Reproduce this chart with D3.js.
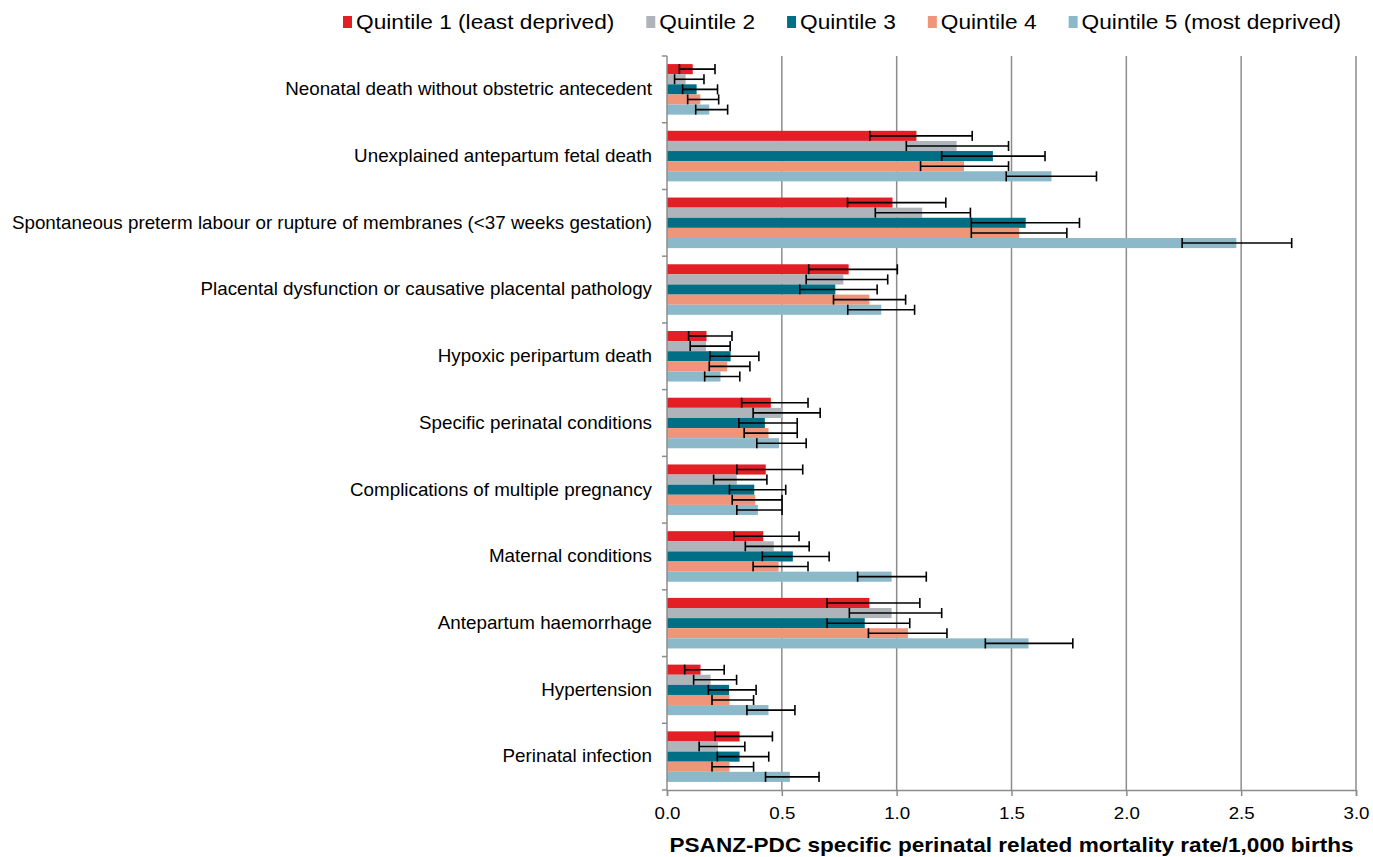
<!DOCTYPE html>
<html>
<head>
<meta charset="utf-8">
<script src="https://cdn.jsdelivr.net/npm/d3@7"></script>
<style>
  body { margin: 0; background: #fff; }
  text { font-family: "Liberation Sans", Arial, sans-serif; fill: #000; }
</style>
</head>
<body>
<div id="chart"></div>
<script>
// categories, top to bottom
var causes = [
    "Neonatal death without obstetric antecedent",
    "Unexplained antepartum fetal death",
    "Spontaneous preterm labour or rupture of membranes (<37 weeks gestation)",
    "Placental dysfunction or causative placental pathology",
    "Hypoxic peripartum death",
    "Specific perinatal conditions",
    "Complications of multiple pregnancy",
    "Maternal conditions",
    "Antepartum haemorrhage",
    "Hypertension",
    "Perinatal infection"
];

var quintiles = ["Quintile 1 (least deprived)", "Quintile 2", "Quintile 3", "Quintile 4", "Quintile 5 (most deprived)"];
var colors = ["#e31e24", "#afb4ba", "#006e85", "#f0957a", "#8cb9c9"];

// rate per quintile, one row per cause (same order as causes)
var rate = [
    [0.112, 0.081, 0.129, 0.145, 0.184],
    [1.086, 1.261, 1.419, 1.293, 1.674],
    [0.982, 1.111, 1.562, 1.533, 2.479],
    [0.791, 0.768, 0.733, 0.881, 0.933],
    [0.172, 0.170, 0.277, 0.262, 0.233],
    [0.452, 0.503, 0.426, 0.442, 0.488],
    [0.430, 0.304, 0.380, 0.384, 0.396],
    [0.419, 0.465, 0.548, 0.486, 0.978],
    [0.881, 0.978, 0.861, 1.049, 1.574],
    [0.146, 0.190, 0.270, 0.272, 0.442],
    [0.316, 0.222, 0.316, 0.272, 0.535]
];
// 95% CI lower bound
var ciLow = [
    [0.054, 0.033, 0.068, 0.090, 0.125],
    [0.883, 1.042, 1.196, 1.104, 1.477],
    [0.786, 0.907, 1.325, 1.325, 2.243],
    [0.617, 0.606, 0.578, 0.725, 0.787],
    [0.094, 0.101, 0.187, 0.184, 0.164],
    [0.325, 0.375, 0.313, 0.336, 0.391],
    [0.304, 0.203, 0.272, 0.284, 0.304],
    [0.291, 0.341, 0.415, 0.375, 0.830],
    [0.697, 0.794, 0.697, 0.877, 1.386],
    [0.077, 0.116, 0.180, 0.196, 0.348],
    [0.210, 0.140, 0.219, 0.196, 0.429]
];
// 95% CI upper bound
var ciHigh = [
    [0.209, 0.161, 0.220, 0.225, 0.264],
    [1.329, 1.487, 1.646, 1.487, 1.870],
    [1.214, 1.321, 1.796, 1.741, 2.720],
    [1.003, 0.961, 0.915, 1.039, 1.078],
    [0.283, 0.275, 0.400, 0.361, 0.317],
    [0.614, 0.667, 0.567, 0.567, 0.606],
    [0.591, 0.435, 0.517, 0.501, 0.501],
    [0.575, 0.619, 0.706, 0.614, 1.129],
    [1.101, 1.196, 1.057, 1.219, 1.767],
    [0.249, 0.303, 0.388, 0.377, 0.557],
    [0.459, 0.339, 0.443, 0.377, 0.662]
];

var xTicks = [0, 0.5, 1.0, 1.5, 2.0, 2.5, 3.0];
var xTitle = "PSANZ-PDC specific perinatal related mortality rate/1,000 births";

var margin = { top: 56, right: 17, bottom: 67, left: 667 },
    width = 1373 - margin.left - margin.right,
    height = 857 - margin.top - margin.bottom;

var svg = d3.select("#chart")
    .append("svg")
    .attr("width", 1373)
    .attr("height", 857)
    .append("g")
    .attr("transform", "translate(" + margin.left + "," + margin.top + ")");

var x = d3.scaleLinear()
    .domain([0, 3])
    .range([0, width]);

var y = d3.scaleBand()
    .domain(causes)
    .range([0, height])
    .padding(0);

var ySub = d3.scaleBand()
    .domain(quintiles)
    .range([0, y.bandwidth()])
    .paddingInner(0)
    .paddingOuter(0.8);

var color = d3.scaleOrdinal()
    .domain(quintiles)
    .range(colors);

// vertical gridlines
svg.append("g")
    .selectAll("line")
    .data(xTicks.slice(1))
    .enter()
    .append("line")
    .attr("x1", function (d) { return x(d); })
    .attr("x2", function (d) { return x(d); })
    .attr("y1", 0)
    .attr("y2", height)
    .attr("stroke", "#8c8c8c")
    .attr("stroke-width", 1.5);

// flatten into one record per bar
var bars = [];
causes.forEach(function (c, i) {
    quintiles.forEach(function (q, j) {
        bars.push({ cause: c, key: q, value: rate[i][j], lo: ciLow[i][j], hi: ciHigh[i][j] });
    });
});

var groups = svg.append("g")
    .selectAll("g")
    .data(bars)
    .enter()
    .append("g")
    .attr("transform", function (d) { return "translate(0," + (y(d.cause) + ySub(d.key)) + ")"; });

groups.append("rect")
    .attr("x", 0)
    .attr("y", 0)
    .attr("width", function (d) { return x(d.value); })
    .attr("height", ySub.bandwidth())
    .attr("fill", function (d) { return color(d.key); });

// error bars
var bw = ySub.bandwidth();
groups.append("line")
    .attr("x1", function (d) { return x(d.lo); })
    .attr("x2", function (d) { return x(d.hi); })
    .attr("y1", bw / 2)
    .attr("y2", bw / 2)
    .attr("stroke", "#000")
    .attr("stroke-width", 1.6);
groups.append("line")
    .attr("x1", function (d) { return x(d.lo); })
    .attr("x2", function (d) { return x(d.lo); })
    .attr("y1", 0)
    .attr("y2", bw)
    .attr("stroke", "#000")
    .attr("stroke-width", 1.6);
groups.append("line")
    .attr("x1", function (d) { return x(d.hi); })
    .attr("x2", function (d) { return x(d.hi); })
    .attr("y1", 0)
    .attr("y2", bw)
    .attr("stroke", "#000")
    .attr("stroke-width", 1.6);

// Y axis: line + ticks at category boundaries
var yAxis = svg.append("g");
yAxis.append("line")
    .attr("x1", 0).attr("x2", 0)
    .attr("y1", 0).attr("y2", height)
    .attr("stroke", "#8c8c8c")
    .attr("stroke-width", 1.5);
yAxis.selectAll(".ytick")
    .data(causes.concat(["end"]))
    .enter()
    .append("line")
    .attr("x1", -5).attr("x2", 0)
    .attr("y1", function (d, i) { return i * y.step(); })
    .attr("y2", function (d, i) { return i * y.step(); })
    .attr("stroke", "#8c8c8c")
    .attr("stroke-width", 1.5);
// the original text is a bit wider than Liberation Sans, so stretch it horizontally
yAxis.selectAll(".ylab")
    .data(causes)
    .enter()
    .append("text")
    .attr("transform", function (d) { return "translate(-15," + (y(d) + y.bandwidth() / 2) + ") scale(1.075,1)"; })
    .attr("text-anchor", "end")
    .attr("dominant-baseline", "central")
    .style("font-size", "17.5px")
    .text(function (d) { return d; });

// X axis
var xAxis = svg.append("g")
    .attr("transform", "translate(0," + height + ")")
    .call(d3.axisBottom(x).tickValues(xTicks).tickSize(6).tickPadding(12)
        .tickFormat(d3.format(".1f")));
xAxis.select(".domain").attr("stroke", "#8c8c8c").attr("stroke-width", 1.5);
xAxis.selectAll(".tick line").attr("stroke", "#8c8c8c").attr("stroke-width", 1.5);
xAxis.selectAll(".tick text")
    .style("font-size", "16px")
    .style("font-family", "Liberation Sans, Arial, sans-serif")
    .attr("transform", "scale(1.17,1)")
    .attr("fill", "#000");

// X axis title
svg.append("text")
    .attr("transform", "translate(" + (width / 2) + "," + (height + 62) + ") scale(1.13,1)")
    .attr("text-anchor", "middle")
    .style("font-size", "20px")
    .style("font-weight", "bold")
    .text(xTitle);

// Legend
var legend = d3.select("svg").append("g")
    .attr("transform", "translate(343,22)");
var lx = 0, sx = 1.08;
quintiles.forEach(function (q) {
    var item = legend.append("g").attr("transform", "translate(" + lx + ",0)");
    item.append("rect")
        .attr("x", 0)
        .attr("y", -6)
        .attr("width", 9)
        .attr("height", 12)
        .attr("fill", color(q));
    var t = item.append("text")
        .attr("transform", "translate(13,0) scale(" + sx + ",1)")
        .attr("dominant-baseline", "central")
        .style("font-size", "21px")
        .text(q);
    lx += 13 + t.node().getComputedTextLength() * sx + 32;
});
</script>
</body>
</html>
